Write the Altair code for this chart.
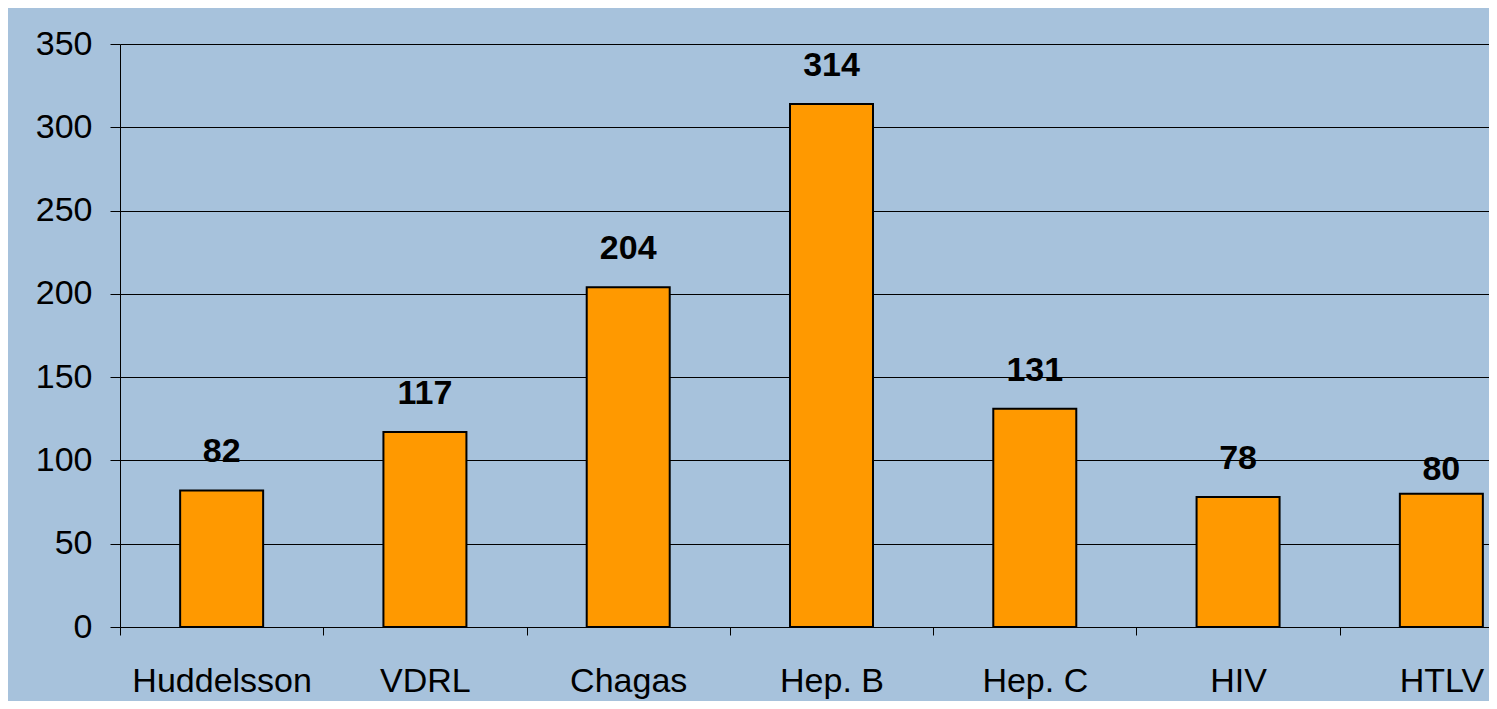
import altair as alt
import pandas as pd

categories = ["Huddelsson", "VDRL", "Chagas", "Hep. B", "Hep. C", "HIV", "HTLV"]
values = [82, 117, 204, 314, 131, 78, 80]
y_ticks = [0, 50, 100, 150, 200, 250, 300, 350]

df = pd.DataFrame({"cat": categories, "val": values})

FONT = "Liberation Sans"

xscale = alt.Scale(domain=categories, range=[0, 1423], paddingInner=0, paddingOuter=0)
yscale = alt.Scale(domain=[0, 350], nice=False)

x_enc = alt.X(
    "cat:N",
    scale=xscale,
    sort=categories,
    title=None,
    axis=alt.Axis(
        tickBand="extent",
        ticks=True,
        tickSize=8,
        tickColor="black",
        domain=True,
        domainColor="black",
        labelAngle=0,
        labelFont=FONT,
        labelFontSize=34,
        labelColor="black",
        labelBaseline="alphabetic",
        labelPadding=56,
        grid=False,
    ),
)
y_enc = alt.Y(
    "val:Q",
    scale=yscale,
    title=None,
    axis=alt.Axis(
        values=y_ticks,
        grid=True,
        gridColor="black",
        gridWidth=1,
        domain=True,
        domainColor="black",
        ticks=True,
        tickSize=10,
        tickColor="black",
        labelFont=FONT,
        labelFontSize=34,
        labelColor="black",
        labelPadding=18,
    ),
)

base = alt.Chart(df).encode(x=x_enc, y=y_enc)

bars = base.mark_bar(width=83, color="#FF9900", stroke="black", strokeWidth=2)

labels = base.transform_filter(alt.datum.cat != "HTLV").mark_text(
    dy=-28, baseline="alphabetic", font=FONT, fontSize=34, fontWeight="bold", color="black"
).encode(text="val:Q")

labels_last = base.transform_filter(alt.datum.cat == "HTLV").mark_text(
    dy=-14, baseline="alphabetic", font=FONT, fontSize=34, fontWeight="bold", color="black"
).encode(text="val:Q")

chart = (
    alt.layer(bars, labels, labels_last)
    .properties(
        width=1369,
        height=583,
        background="#A7C2DC",
        autosize=alt.AutoSizeParams(type="none"),
        padding={"left": 112, "top": 36, "right": 0, "bottom": 74},
    )
    .configure_view(stroke=None)
)

chart.save("out.html", embed_options={"renderer": "svg", "actions": False})
